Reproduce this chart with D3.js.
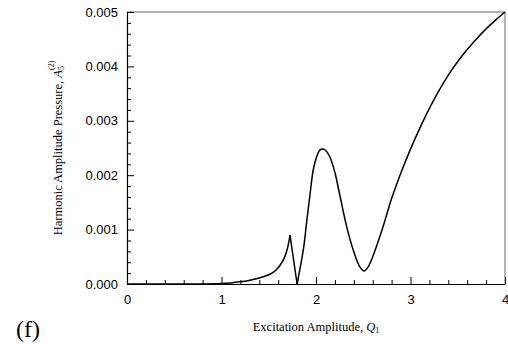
<!DOCTYPE html>
<html>
<head>
<meta charset="utf-8">
<script src="https://cdn.jsdelivr.net/npm/d3@7"></script>
<style>
  body { margin: 0; background: #fff; }
  svg { display: block; }
  .tick text { font-family: "Liberation Sans", Arial, sans-serif; font-size: 13px; fill: #000; }
  .title { font-family: "Liberation Serif", "Times New Roman", serif; font-size: 12.5px; fill: #000; }
</style>
</head>
<body>
<svg id="chart" width="508" height="344"></svg>
<script>
// Excitation amplitude Q1 and harmonic amplitude A5(2)
const qVals = [0, 0.5, 0.8, 1.0, 1.1, 1.2, 1.3, 1.4, 1.5, 1.55, 1.6, 1.64, 1.67, 1.70, 1.725,
  1.80, 1.866, 1.90, 1.937, 1.971, 2.007, 2.04, 2.075, 2.11, 2.148, 2.20, 2.25,
  2.325, 2.395, 2.466, 2.508, 2.55, 2.6, 2.7, 2.8, 2.9, 3.0, 3.1, 3.2, 3.3, 3.4,
  3.5, 3.6, 3.7, 3.8, 3.9, 4.0];
const aVals = [0, 0, 0.000002, 0.00001, 0.00002, 0.00004, 0.00007, 0.00011, 0.00017,
  0.00022, 0.0003, 0.0004, 0.0005, 0.00067, 0.0009,
  0, 0.00063, 0.00112, 0.00165, 0.0021, 0.00234, 0.00246, 0.00248, 0.00244, 0.00233,
  0.00205, 0.00165, 0.00105, 0.00062, 0.00031, 0.00024, 0.00031, 0.0005, 0.001,
  0.00157, 0.00205, 0.00248, 0.00287, 0.00323, 0.00355, 0.00384, 0.00409, 0.00431,
  0.00451, 0.00469, 0.00485, 0.005];
// sharp corners of the curve (cusp Q values)
const cusps = [1.725, 1.80];

const xTicks = [0, 1, 2, 3, 4];
const yTicks = [0, 0.001, 0.002, 0.003, 0.004, 0.005];

const svg = d3.select("#chart");
const mLeft = 127, mRight = 505, mTop = 12, mBottom = 284;

const x = d3.scaleLinear().domain([0, 4]).range([mLeft, mRight]);
const y = d3.scaleLinear().domain([0, 0.005]).range([mBottom, mTop]);

// frame: top and right edges
svg.append("line").attr("x1", mLeft).attr("x2", mRight).attr("y1", mTop).attr("y2", mTop)
  .attr("stroke", "#666").attr("stroke-width", 1);
svg.append("line").attr("x1", mRight).attr("x2", mRight).attr("y1", mTop).attr("y2", mBottom)
  .attr("stroke", "#666").attr("stroke-width", 1);

// minor ticks
const xMinor = d3.range(0, 4.001, 0.2).filter(v => Math.abs(v - Math.round(v)) > 1e-6);
const yMinor = d3.range(0, 0.00501, 0.0002).filter(v => Math.abs(v * 1000 - Math.round(v * 1000)) > 1e-6);

svg.append("g").attr("transform", `translate(0,${mBottom})`)
  .call(d3.axisBottom(x).tickValues(xMinor).tickSizeInner(-4).tickSizeOuter(0).tickFormat(""))
  .call(g => g.select(".domain").remove());
svg.append("g").attr("transform", `translate(${mLeft},0)`)
  .call(d3.axisLeft(y).tickValues(yMinor).tickSizeInner(-4).tickSizeOuter(0).tickFormat(""))
  .call(g => g.select(".domain").remove());

// major axes
const xAxis = svg.append("g").attr("transform", `translate(0,${mBottom})`)
  .call(d3.axisBottom(x).tickValues(xTicks).tickSizeInner(-7).tickSizeOuter(0).tickFormat(d3.format("d")));
xAxis.selectAll(".tick text").attr("y", 11).attr("dy", "0.71em");

const yAxis = svg.append("g").attr("transform", `translate(${mLeft},0)`)
  .call(d3.axisLeft(y).tickValues(yTicks).tickSizeInner(-7).tickSizeOuter(0).tickFormat(d3.format(".3f")));
yAxis.selectAll(".tick text").attr("x", -9);

svg.selectAll(".domain").attr("stroke", "#000").attr("stroke-width", 1.2);
svg.selectAll(".tick line").attr("stroke", "#000");

// curve, split at the cusps so they stay sharp
const pts = qVals.map((q, i) => ({ q, a: aVals[i] }));
const line = d3.line().x(d => x(d.q)).y(d => y(d.a)).curve(d3.curveCatmullRom.alpha(0.5));
const bounds = [0, ...cusps, 4];
for (let k = 0; k < bounds.length - 1; k++) {
  const seg = pts.filter(d => d.q >= bounds[k] && d.q <= bounds[k + 1]);
  svg.append("path").datum(seg).attr("d", line)
    .attr("fill", "none").attr("stroke", "#000").attr("stroke-width", 1.5);
}

// x title
const xt = svg.append("text").attr("class", "title").attr("x", 316).attr("y", 331)
  .attr("text-anchor", "middle");
xt.append("tspan").text("Excitation Amplitude, ");
xt.append("tspan").attr("font-style", "italic").text("Q");
xt.append("tspan").attr("font-size", "8px").attr("dy", 2).text("1");

// y title
const yt = svg.append("text").attr("class", "title")
  .attr("transform", `translate(62,148) rotate(-90)`).attr("text-anchor", "middle");
yt.append("tspan").text("Harmonic Amplitude Pressure, ");
yt.append("tspan").attr("font-style", "italic").text("A");
yt.append("tspan").attr("font-size", "8px").attr("dy", 2).text("5");
yt.append("tspan").attr("font-size", "8px").attr("dy", -10).attr("dx", -4).text("(2)");

// panel label
svg.append("text").attr("x", 16).attr("y", 337)
  .attr("font-family", "Liberation Serif, Times New Roman, serif").attr("font-size", "24px")
  .text("(f)");
</script>
</body>
</html>
